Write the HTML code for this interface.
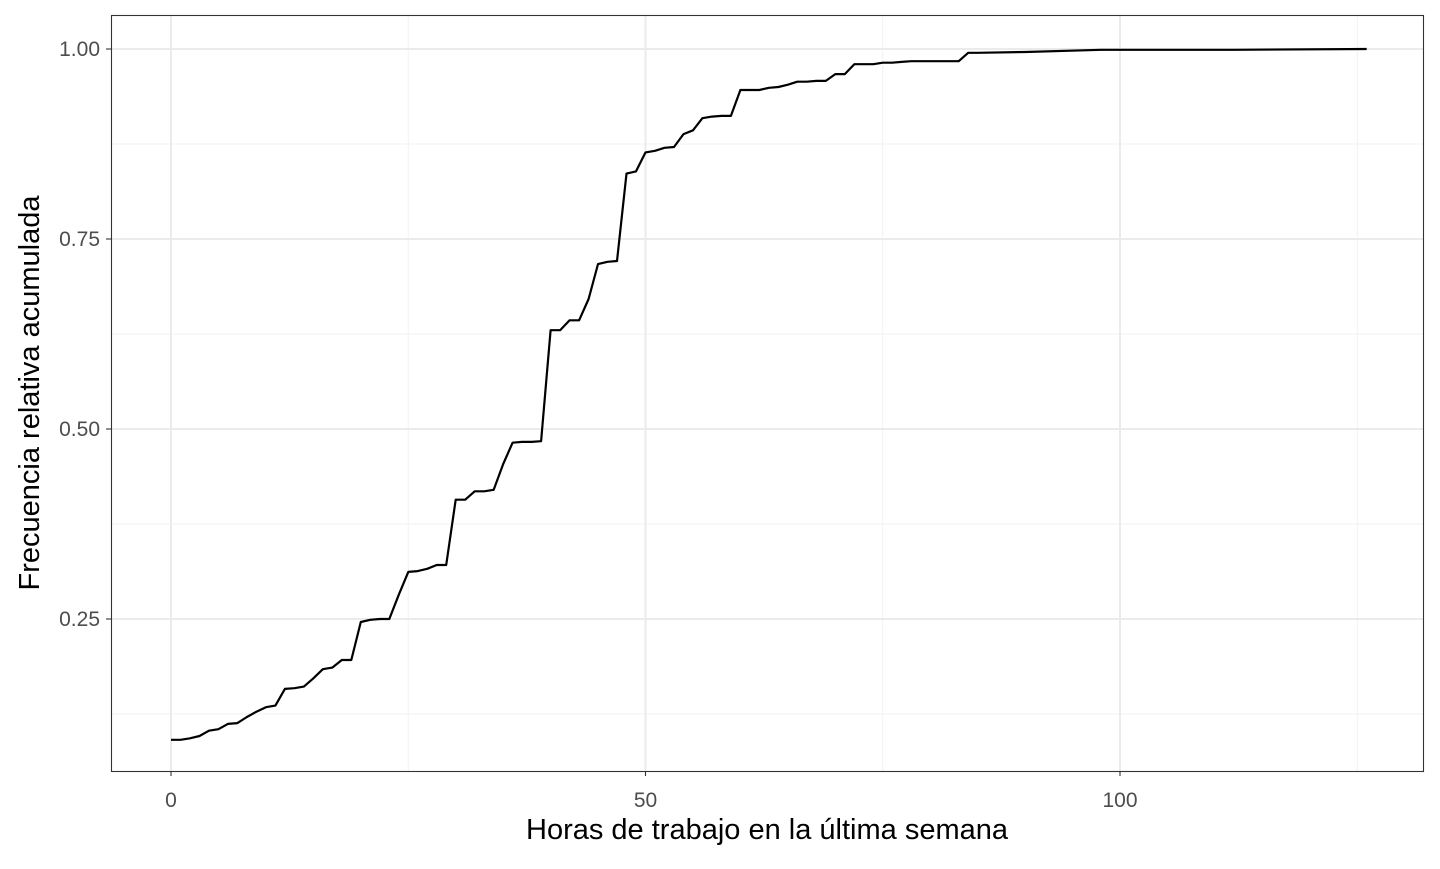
<!DOCTYPE html>
<html><head><meta charset="utf-8"><style>
html,body{margin:0;padding:0;background:#fff;}
svg text{font-family:"Liberation Sans",sans-serif;}
</style></head><body>
<svg width="1440" height="864">
<g id="grid"></g>
<path id="line" fill="none" stroke="#000" stroke-width="2.2" stroke-linejoin="round"/>
<rect x="111.5" y="15.5" width="1312" height="756" fill="none" stroke="#333" stroke-width="1.1"/>
<g id="axes"></g>
<text x="767" y="839" text-anchor="middle" font-size="29" fill="#000">Horas de trabajo en la última semana</text>
<text transform="translate(39,393) rotate(-90)" text-anchor="middle" font-size="29" fill="#000">Frecuencia relativa acumulada</text>
</svg>
<script>
const hours = [0,1,2,3,4,5,6,7,8,9,10,11,12,13,14,15,16,17,18,19,20,21,22,23,24,25,26,27,28,29,30,31,32,33,34,35,36,37,38,39,40,41,42,43,44,45,46,47,48,49,50,51,52,53,54,55,56,57,58,59,60,61,62,63,64,65,66,67,68,69,70,71,72,73,74,75,76,77,78,79,80,81,82,83,84,85,90,98,112,126];
const cumFreq = [0.091,0.091,0.093,0.096,0.103,0.105,0.112,0.113,0.121,0.128,0.134,0.136,0.158,0.159,0.161,0.172,0.184,0.186,0.196,0.196,0.246,0.249,0.250,0.250,0.282,0.312,0.313,0.316,0.321,0.321,0.407,0.407,0.418,0.418,0.420,0.454,0.482,0.483,0.483,0.484,0.630,0.630,0.643,0.643,0.671,0.717,0.720,0.721,0.836,0.839,0.864,0.866,0.870,0.871,0.888,0.893,0.909,0.911,0.912,0.912,0.946,0.946,0.946,0.949,0.950,0.953,0.957,0.957,0.958,0.958,0.967,0.967,0.980,0.980,0.980,0.982,0.982,0.983,0.984,0.984,0.984,0.984,0.984,0.984,0.995,0.995,0.996,0.999,0.999,1.000];
const xTicks = [0,50,100];
const yTicks = [0.25,0.50,0.75,1.00];
const xMinor = [25,75,125];
const yMinor = [0.125,0.375,0.625,0.875];
const NS='http://www.w3.org/2000/svg';
const X = h => 171 + h*9.49;
const Y = v => 49 + (1-v)*760;
const grid=document.getElementById('grid'), axes=document.getElementById('axes');
function ln(p,x1,y1,x2,y2,c,w,name){const l=document.createElementNS(NS,'line');l.setAttribute('x1',x1);l.setAttribute('y1',y1);l.setAttribute('x2',x2);l.setAttribute('y2',y2);l.setAttribute('stroke',c);l.setAttribute('stroke-width',w);


p.appendChild(l);}
function tx(x,y,s,anchor,name){const t=document.createElementNS(NS,'text');t.setAttribute('x',x);t.setAttribute('y',y);t.setAttribute('text-anchor',anchor);t.setAttribute('font-size','21');t.setAttribute('fill','#4d4d4d');t.textContent=s;


axes.appendChild(t);}
xMinor.forEach(v=>ln(grid,X(v),15,X(v),771,'#f2f2f2',1,'x-minor-grid'));
yMinor.forEach(v=>ln(grid,111,Y(v),1424,Y(v),'#f2f2f2',1,'y-minor-grid'));
xTicks.forEach(v=>{ln(grid,X(v),15,X(v),771,'#ebebeb',2,'x-major-grid');ln(axes,X(v),771,X(v),776,'#333',1.1,'x-tick');tx(X(v),807,String(v),'middle','x-tick-label');});
yTicks.forEach(v=>{ln(grid,111,Y(v),1424,Y(v),'#ebebeb',2,'y-major-grid');ln(axes,106,Y(v),111,Y(v),'#333',1.1,'y-tick');tx(100,Y(v)+7,v.toFixed(2),'end','y-tick-label');});
document.getElementById('line').setAttribute('d',hours.map((h,i)=>(i?'L':'M')+X(h).toFixed(1)+','+Y(cumFreq[i]).toFixed(1)).join(''));
</script>
</body></html>
